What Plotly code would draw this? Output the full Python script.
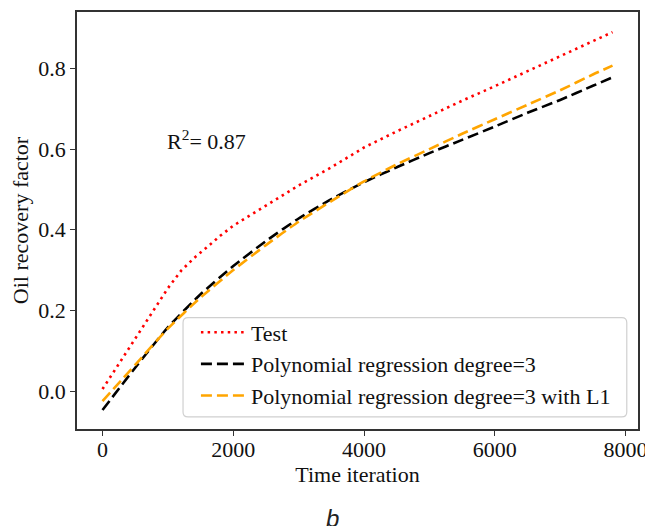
import plotly.graph_objects as go

# Test curve (red dotted)
test_x = [0, 200, 400, 600, 800, 1000, 1200, 1400, 1600, 1800, 2000, 2500, 3000,
          3500, 4000, 4500, 5000, 5500, 6000, 6500, 7000, 7500, 7800]
test_y = [0.005, 0.055, 0.105, 0.157, 0.207, 0.255, 0.298, 0.330, 0.357, 0.385, 0.410,
          0.460, 0.510, 0.555, 0.604, 0.644, 0.683, 0.720, 0.756, 0.793, 0.830, 0.867, 0.890]

# Polynomial regression fits
poly_x = [0, 500, 1000, 1500, 2000, 2500, 3000, 3500, 4000, 4500, 5000, 5500, 6000,
          6500, 7000, 7500, 7800]
poly3_y = [-0.047, 0.058, 0.158, 0.240, 0.310, 0.372, 0.428, 0.476, 0.518, 0.555,
           0.590, 0.623, 0.656, 0.690, 0.722, 0.757, 0.778]
poly3_l1_y = [-0.025, 0.065, 0.155, 0.232, 0.300, 0.362, 0.420, 0.471, 0.520, 0.562,
              0.600, 0.638, 0.674, 0.710, 0.746, 0.785, 0.807]

x_ticks = [0, 2000, 4000, 6000, 8000]
y_ticks = [0.0, 0.2, 0.4, 0.6, 0.8]

serif = "Liberation Serif"
fsize = 22

fig = go.Figure()
fig.add_trace(go.Scatter(x=test_x, y=test_y, mode="lines", name="Test",
                         line=dict(color="#ff0000", width=2.6, dash="2.5px,4.2px")))
fig.add_trace(go.Scatter(x=poly_x, y=poly3_y, mode="lines", name="Polynomial regression degree=3",
                         line=dict(color="#000000", width=2.6, dash="11px,5px",
                                   shape="spline", smoothing=0.6)))
fig.add_trace(go.Scatter(x=poly_x, y=poly3_l1_y, mode="lines",
                         name="Polynomial regression degree=3 with L1",
                         line=dict(color="#ffa500", width=2.6, dash="11px,5px",
                                   shape="spline", smoothing=0.6)))

axis_common = dict(showgrid=False, zeroline=False, showline=True, mirror=True,
                   linecolor="#333333", linewidth=1.5, ticks="outside", ticklen=5,
                   tickwidth=1.2, tickcolor="#333333",
                   tickfont=dict(family=serif, size=fsize, color="#111111"))

fig.update_xaxes(range=[-390, 8190], tickvals=x_ticks, ticktext=[str(v) for v in x_ticks],
                 ticklabelstandoff=-5,
                 title=dict(text="Time iteration", font=dict(family=serif, size=fsize, color="#111111"),
                            standoff=2),
                 **axis_common)
fig.update_yaxes(range=[-0.094, 0.94], tickvals=y_ticks, ticktext=["%.1f" % v for v in y_ticks],
                 title=dict(text="Oil recovery factor", font=dict(family=serif, size=fsize, color="#111111"),
                            standoff=10),
                 **axis_common)

fig.add_annotation(x=960, y=0.622, xref="x", yref="y", text="R<sup>2</sup>= 0.87",
                   showarrow=False, xanchor="left", yanchor="middle",
                   font=dict(family=serif, size=fsize, color="#111111"))
fig.add_annotation(x=0.456, y=-0.215, xref="paper", yref="paper", text="<i>b</i>",
                   showarrow=False, xanchor="center", yanchor="middle",
                   font=dict(family="Liberation Sans", size=24, color="#222222"))

# legend frame (rounded, semi-transparent like matplotlib's)
bx0, bx1, by0, by1 = 0.189, 0.980, 0.029, 0.267
rx, ry = 5 / 561, 5 / 419
frame = (f"M {bx0 + rx},{by0} L {bx1 - rx},{by0} Q {bx1},{by0} {bx1},{by0 + ry} "
         f"L {bx1},{by1 - ry} Q {bx1},{by1} {bx1 - rx},{by1} "
         f"L {bx0 + rx},{by1} Q {bx0},{by1} {bx0},{by1 - ry} "
         f"L {bx0},{by0 + ry} Q {bx0},{by0} {bx0 + rx},{by0} Z")
fig.add_shape(type="path", path=frame, xref="paper", yref="paper", layer="above",
              line=dict(color="#d0d0d0", width=1.2), fillcolor="rgba(255,255,255,0.8)")

# page body adds ~8px offset, so the figure is a bit smaller than the window
fig.update_layout(
    width=645, height=518,
    margin=dict(l=69, r=15, t=2, b=97),
    font=dict(family=serif, size=fsize, color="#111111"),
    plot_bgcolor="white", paper_bgcolor="white",
    legend=dict(x=0.212, y=0.03, xanchor="left", yanchor="bottom",
                bgcolor="rgba(0,0,0,0)", borderwidth=0,
                font=dict(family=serif, size=fsize, color="#111111"),
                itemwidth=45),
)

fig.write_html("out.html")
